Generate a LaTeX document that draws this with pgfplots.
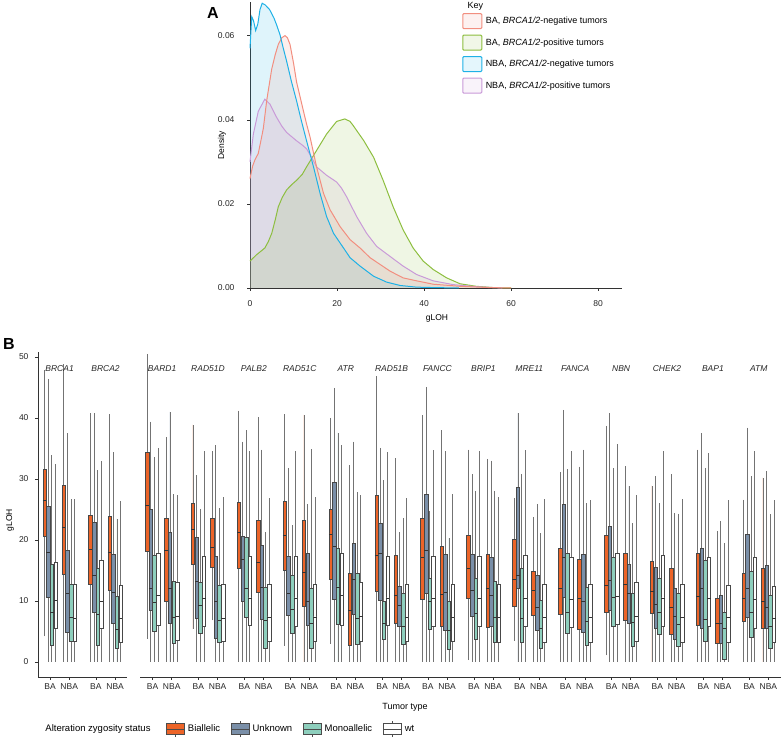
\documentclass[border=0pt]{standalone}
\usepackage{pgfplots}
\usepackage{pgfplotstable}
\pgfplotsset{compat=1.18}
\usepgfplotslibrary{statistics}
\usepackage{fontspec}
\setmainfont{Liberation Sans}
\definecolor{cBAneg}{HTML}{F28E7F}
\definecolor{cBApos}{HTML}{8DBE3F}
\definecolor{cNBAneg}{HTML}{1FB1E6}
\definecolor{cNBApos}{HTML}{C99AD8}
\definecolor{bi}{HTML}{EC6428}
\definecolor{un}{HTML}{7A8FA8}
\definecolor{mo}{HTML}{8ECFBD}
\definecolor{wt}{HTML}{FFFFFF}
\definecolor{axc}{HTML}{333333}

\pgfplotstableread{
x y
0 0.057
0.4 0.0645
0.8 0.0636
1.3 0.0612
1.8 0.0628
2.3 0.0662
2.8 0.0677
3.5 0.0673
4.5 0.0662
5.5 0.0642
6.1 0.0626
6.9 0.0602
7.6 0.0572
8.4 0.054
9.5 0.0492
10.7 0.0445
11.8 0.0398
13.0 0.035
14.6 0.0288
16.1 0.0225
17.6 0.017
19.2 0.013
21.5 0.0095
23.0 0.0072
25.3 0.0052
28.4 0.0028
31.4 0.0014
34.5 0.0006
38.3 0.0002
42.1 0.0001
48 0.0
}\tNBAneg
\pgfplotstableread{
x y
0 0.026
0.6 0.029
1.15 0.0305
1.9 0.032
2.5 0.035
3.07 0.038
3.83 0.0445
4.98 0.052
5.8 0.0555
6.5 0.0579
7.3 0.0595
8.05 0.060
8.6 0.0595
9.2 0.0579
10.0 0.0535
10.7 0.049
11.5 0.0455
12.3 0.042
13.0 0.039
13.8 0.0359
15.3 0.0288
16.9 0.0225
18.4 0.0186
20.7 0.0146
23.0 0.0115
25.3 0.0095
27.6 0.0072
29.9 0.0056
32.2 0.004
35.2 0.0024
38.3 0.0017
42.1 0.0009
48.3 0.0004
55 0.0001
60 0
}\tBAneg
\pgfplotstableread{
x y
0 0.0064
1.5 0.0079
3.4 0.0095
4.2 0.011
5 0.013
5.8 0.0162
6.5 0.0193
7.4 0.0215
8.4 0.0233
9.5 0.0245
10.7 0.0256
12 0.027
13.0 0.0288
15.3 0.0327
17.6 0.0366
19.9 0.0396
21.8 0.0402
23.0 0.0396
23.8 0.0385
26.1 0.0351
28.4 0.0311
30.6 0.0256
32.9 0.0193
35.2 0.0138
37.5 0.0095
39.8 0.0064
42.1 0.0044
45.2 0.0024
48.3 0.0010
52 0.0004
56 0.0001
60 0
}\tBApos
\pgfplotstableread{
x y
0 0.030
0.77 0.0366
1.9 0.042
3.4 0.0449
4.6 0.0437
6.1 0.0406
7.3 0.0385
8.4 0.037
10.7 0.035
12.0 0.034
13.0 0.0331
14.2 0.031
15.3 0.0288
17.6 0.0268
19.9 0.0252
21.0 0.0238
22.2 0.0217
24.5 0.017
26.8 0.013
29.1 0.0099
32.2 0.0075
35.2 0.0052
38.3 0.0032
42.1 0.0017
46.7 0.0008
52 0.0003
58 0
}\tNBApos

\pgfplotsset{
  bxs/.style={forget plot, draw=black!72, line width=0.45pt,
    boxplot/draw direction=y,
    boxplot/box extend=3.5, boxplot/whisker extend=0,
    boxplot/every whisker/.style={draw=black!55, line width=0.7pt},
    boxplot/every median/.style={draw=black!80, line width=0.6pt}},
  tks/.style={tick align=outside, major tick length=3pt,
    tick style={axc, line width=0.5pt},
    axis line style={axc, line width=0.8pt},
    ticklabel style={font=\fontsize{8.5}{9}\selectfont, text=black!85},
    /pgf/number format/assume math mode=true},
  facet/.style={tks, scale only axis, anchor=south west, height=325pt,
    ymin=-2.46, ymax=50.8, axis x line*=bottom, clip=false},
  dens/.style={forget plot, draw=none, fill=#1, fill opacity=0.14},
  dline/.style={forget plot, draw=#1, line width=1pt},
}

\def\bxx#1#2#3/#4/#5/#6/#7\relax{\addplot[bxs, fill=#1, boxplot prepared={draw position=#2, lower whisker=#3, lower quartile=#4, median=#5, upper quartile=#6, upper whisker=#7}] coordinates {};}
\newcommand\grp[5]{\bxx{bi}{#1-5.5}#2\relax\bxx{un}{#1-1.8}#3\relax\bxx{mo}{#1+1.8}#4\relax\bxx{wt}{#1+5.5}#5\relax}
\newcommand\gl[2]{\node[font=\itshape\fontsize{8.5}{9}\selectfont, text=black!85] at (axis cs:#1,48.1) {#2};}

\begin{document}
\begin{tikzpicture}
\useasboundingbox (0,0) rectangle (781pt,738pt);

% ---------------- Panel A ----------------
\begin{axis}[tks, at={(250pt,450pt)}, anchor=south west, scale only axis,
  width=372pt, height=286pt, xmin=0, xmax=85.5, ymin=0, ymax=0.068,
  axis x line*=bottom, axis y line*=left, clip=false,
  xtick={0,20,40,60,80}, ytick={0,0.02,0.04,0.06}, scaled y ticks=false,
  yticklabel style={xshift=-9pt, /pgf/number format/.cd, fixed, fixed zerofill, precision=2},
  xticklabel style={yshift=-6pt},
  legend style={at={(0.57,0.9615)}, anchor=north west, draw=none, fill=none,
    inner sep=0pt, row sep=5.5pt, font=\fontsize{9}{10}\selectfont,
    cells={anchor=west}, nodes={inner xsep=3.5pt}},
]
\addplot[dens=cNBAneg] table {\tNBAneg} \closedcycle;
\addplot[dens=cBAneg] table {\tBAneg} \closedcycle;
\addplot[dens=cNBApos] table {\tNBApos} \closedcycle;
\addplot[dens=cBApos] table {\tBApos} \closedcycle;
\addplot[dline=cBApos] table {\tBApos};
\addplot[dline=cNBApos] table {\tNBApos};
\addplot[dline=cBAneg] table {\tBAneg};
\addplot[dline=cNBAneg] table {\tNBAneg};
\addlegendimage{legend image code/.code={\draw[cBAneg, fill=cBAneg!12, line width=1pt, rounded corners=1pt] (0pt,-7.5pt) rectangle (19pt,7.5pt);}}
\addlegendentry{BA, \textit{BRCA1/2}-negative tumors}
\addlegendimage{legend image code/.code={\draw[cBApos, fill=cBApos!12, line width=1pt, rounded corners=1pt] (0pt,-7.5pt) rectangle (19pt,7.5pt);}}
\addlegendentry{BA, \textit{BRCA1/2}-positive tumors}
\addlegendimage{legend image code/.code={\draw[cNBAneg, fill=cNBAneg!12, line width=1pt, rounded corners=1pt] (0pt,-7.5pt) rectangle (19pt,7.5pt);}}
\addlegendentry{NBA, \textit{BRCA1/2}-negative tumors}
\addlegendimage{legend image code/.code={\draw[cNBApos, fill=cNBApos!12, line width=1pt, rounded corners=1pt] (0pt,-7.5pt) rectangle (19pt,7.5pt);}}
\addlegendentry{NBA, \textit{BRCA1/2}-positive tumors}
\end{axis}

\node[font=\bfseries\fontsize{16}{16}\selectfont] at (213pt,725pt) {A};
\node[rotate=90, font=\fontsize{8.5}{9}\selectfont] at (222pt,593pt) {Density};
\node[font=\fontsize{8.5}{9}\selectfont] at (437pt,420pt) {gLOH};
\node[anchor=base west, font=\fontsize{9}{10}\selectfont] at (464pt,729pt) {Key};

% ---------------- Panel B, facet 1 ----------------
\begin{axis}[facet, at={(38pt,61pt)}, width=89pt, xmin=38, xmax=127,
  axis y line*=left, ytick={0,10,20,30,40,50},
  yticklabel style={xshift=-3pt},
  xtick={50,69.2,95.9,115.1}, xticklabels={BA,NBA,BA,NBA},
  legend style={at={(1.435,-0.16)}, anchor=west, draw=none, fill=none,
    inner sep=0pt, legend columns=4, font=\fontsize{9.5}{10}\selectfont,
    nodes={inner xsep=3.5pt},
    /tikz/every even column/.append style={column sep=7pt}},
]
\addlegendimage{legend image code/.code={\draw[black!70, line width=0.5pt] (9pt,-8pt)--(9pt,8pt); \draw[black!70, fill=bi, line width=0.5pt] (0pt,-5.5pt) rectangle (18pt,5.5pt); \draw[black!70, line width=0.5pt] (0pt,0pt)--(18pt,0pt);}}
\addlegendentry{Biallelic}
\addlegendimage{legend image code/.code={\draw[black!70, line width=0.5pt] (9pt,-8pt)--(9pt,8pt); \draw[black!70, fill=un, line width=0.5pt] (0pt,-5.5pt) rectangle (18pt,5.5pt); \draw[black!70, line width=0.5pt] (0pt,0pt)--(18pt,0pt);}}
\addlegendentry{Unknown}
\addlegendimage{legend image code/.code={\draw[black!70, line width=0.5pt] (9pt,-8pt)--(9pt,8pt); \draw[black!70, fill=mo, line width=0.5pt] (0pt,-5.5pt) rectangle (18pt,5.5pt); \draw[black!70, line width=0.5pt] (0pt,0pt)--(18pt,0pt);}}
\addlegendentry{Monoallelic}
\addlegendimage{legend image code/.code={\draw[black!70, line width=0.5pt] (9pt,-8pt)--(9pt,8pt); \draw[black!70, fill=white, line width=0.5pt] (0pt,-5.5pt) rectangle (18pt,5.5pt); \draw[black!70, line width=0.5pt] (0pt,0pt)--(18pt,0pt);}}
\addlegendentry{wt}
\grp{50}{4.2/20.6/26.5/31.6/47.8}{0/10.6/17.9/25.6/46.4}{0/2.7/8.1/16.0/33.9}{0/5.6/10.1/16.4/32.4}
\grp{69.2}{0/14.4/22.0/28.9/48.8}{0/4.9/11.3/18.3/37.5}{0/3.4/7.4/12.8/26.7}{0/3.4/7.2/12.7/26.7}
\grp{95.9}{0/12.7/18.5/24.0/40.8}{0/8.2/14.2/22.9/40.8}{0/2.8/7.8/15.3/31.4}{0/5.6/9.9/16.6/33.0}
\grp{115.1}{0/11.8/17.9/23.9/40.6}{0/6.4/11.4/17.7/34.4}{0/2.2/5.4/10.7/23.5}{0/3.2/7.1/12.5/26.4}
\gl{59.6}{BRCA1}
\gl{105.5}{BRCA2}
\end{axis}

% ---------------- Panel B, facet 2 ----------------
\begin{axis}[facet, at={(140pt,61pt)}, width=641pt, xmin=140, xmax=781,
  axis y line=none, ytick=\empty,
  xtick={152.5,171.7,198.4,217.6,244.3,263.5,290.2,309.4,336.1,355.3,382.0,401.2,427.9,447.1,473.8,493.0,519.7,538.9,565.6,584.8,611.5,630.7,657.4,676.6,703.3,722.5,749.2,768.4},
  xticklabels={BA,NBA,BA,NBA,BA,NBA,BA,NBA,BA,NBA,BA,NBA,BA,NBA,BA,NBA,BA,NBA,BA,NBA,BA,NBA,BA,NBA,BA,NBA,BA,NBA},
]
\grp{152.5}{3.8/18.2/25.7/34.3/50.5}{0/8.5/12.0/25.1/39.4}{0/5.0/9.8/17.5/33.6}{0/6.1/10.9/17.8/35.1}
\grp{171.7}{0/10.0/18.3/23.6/36.9}{0/6.3/12.0/21.2/41.0}{0/3.0/7.3/13.2/27.5}{0/3.5/7.5/13.1/27.4}
\grp{198.4}{5.4/16.1/21.7/26.0/38.9}{0/7.1/13.3/20.4/30.6}{0/4.7/9.3/13.1/25.1}{0/5.9/10.4/17.4/34.5}
\grp{217.6}{6.8/15.5/18.8/23.6/34.5}{0/3.9/9.9/17.4/35.5}{0/3.3/6.8/12.5/25.2}{0/3.4/7.2/12.8/27.0}
\grp{244.3}{0/15.4/21.2/26.1/41.2}{0/9.9/16.8/20.6/36.1}{0/7.3/12.1/20.4/38.0}{0/6.0/10.5/17.4/34.6}
\grp{263.5}{0/11.4/16.3/23.3/40.1}{0/7.0/12.3/19.2/34.8}{0/2.3/6.9/12.3/21.3}{0/3.4/7.4/12.8/26.9}
\grp{290.2}{2.7/15.1/20.7/26.3/40.6}{0/7.6/11.2/17.3/31.8}{0/4.7/8.7/14.2/22.4}{0/5.9/10.5/17.3/34.5}
\grp{309.4}{0/9.1/14.7/23.3/40.5}{0/6.1/9.9/17.9/25.9}{0/2.3/6.3/12.1/34.9}{0/3.4/7.4/12.8/27.0}
\grp{336.1}{3.0/13.5/21.0/25.0/40.0}{0/10.3/18.9/29.5/44.9}{0/6.2/12.3/18.7/37.6}{0/6.1/10.9/17.9/35.5}
\grp{355.3}{0/2.7/8.5/14.6/32.2}{0/7.8/13.5/19.5/36.1}{0/2.9/7.2/14.6/27.8}{0/3.4/7.5/13.1/27.3}
\grp{382.0}{0/11.6/17.5/27.4/46.8}{0/10.1/17.8/22.7/35.1}{0/3.8/6.4/9.9/29.8}{0/6.0/10.5/17.3/34.4}
\grp{401.2}{0/6.3/10.9/17.5/33.4}{0/5.9/9.3/12.4/21.3}{0/2.9/5.8/11.2/23.6}{0/3.4/7.3/12.7/26.8}
\grp{427.9}{0/10.3/17.2/23.5/40.4}{0/11.2/18.3/27.5/45.1}{0/5.3/9.9/13.8/24.8}{0/5.9/10.5/17.3/34.8}
\grp{447.1}{0/5.8/11.1/19.0/38.0}{0/5.2/11.4/17.7/34.5}{0/2.1/5.2/10.0/20.3}{0/3.4/7.3/12.7/27.5}
\grp{473.8}{0.3/10.5/15.4/20.7/34.8}{0/7.5/11.8/17.6/30.8}{0/3.8/7.9/13.7/28.1}{0/5.9/10.5/17.3/34.6}
\grp{493.0}{0/5.7/12.0/17.6/33.3}{0/5.9/10.9/17.1/33.0}{0/3.3/7.3/13.3/28.1}{0/3.3/7.3/12.8/27.0}
\grp{519.7}{3.4/9.2/13.6/20.1/26.9}{0/12.1/14.2/28.6/40.8}{0/3.3/7.1/15.4/30.8}{0/5.9/10.5/17.5/34.8}
\grp{538.9}{0/7.6/11.8/14.8/23.8}{0/5.2/8.9/14.3/25.9}{0/2.3/5.5/10.2/21.1}{0/3.3/7.3/12.8/26.7}
\grp{565.6}{0/7.9/12.0/18.7/31.1}{0/10.6/17.2/25.8/41.3}{0/4.7/8.2/17.8/31.6}{0/5.7/10.3/17.2/34.5}
\grp{584.8}{0/5.4/10.5/16.8/32.0}{0/4.8/10.0/17.6/34.8}{0/2.8/6.7/12.3/26.0}{0/3.3/7.3/12.7/26.6}
\grp{611.5}{1.1/8.2/12.5/20.8/38.7}{0/8.5/13.4/22.2/40.8}{0/5.8/10.6/17.1/31.8}{0/6.2/10.8/17.9/35.7}
\grp{630.7}{0/6.9/12.8/17.9/32.1}{0/6.4/11.3/16.1/28.8}{0/2.6/6.5/11.2/22.7}{0/3.4/7.5/13.1/27.4}
\grp{657.4}{0/8.0/11.6/16.5/28.9}{0/5.6/9.4/15.5/30.4}{0/4.6/8.2/13.8/26.0}{0/5.9/10.5/17.5/34.6}
\grp{676.6}{0/4.5/9.0/15.3/30.8}{0/3.8/7.5/12.1/24.4}{0/2.6/6.1/11.2/24.3}{0/3.3/7.3/12.7/26.7}
\grp{703.3}{0/6.1/10.7/17.9/34.8}{0/5.5/12.0/18.7/37.5}{0/3.4/7.0/16.7/31.8}{0/5.9/10.4/17.2/34.2}
\grp{722.5}{0/3.0/6.3/10.5/21.5}{0/3.0/6.4/11.0/23.1}{0/0.4/5.5/8.1/19.5}{0/3.3/7.3/12.5/26.5}
\grp{749.2}{0/6.7/10.4/14.6/26.6}{0/7.3/12.1/20.9/38.4}{0/4.0/8.1/14.8/30.4}{0/5.6/10.3/17.2/34.6}
\grp{768.4}{0/5.5/10.0/15.4/30.2}{0/5.5/9.0/15.8/31.3}{0/2.3/5.9/11.0/24.2}{0/3.3/7.1/12.4/26.5}
\gl{162.1}{BARD1}
\gl{208.0}{RAD51D}
\gl{253.9}{PALB2}
\gl{299.8}{RAD51C}
\gl{345.7}{ATR}
\gl{391.6}{RAD51B}
\gl{437.5}{FANCC}
\gl{483.4}{BRIP1}
\gl{529.3}{MRE11}
\gl{575.2}{FANCA}
\gl{621.1}{NBN}
\gl{667.0}{CHEK2}
\gl{712.9}{BAP1}
\gl{758.8}{ATM}
\end{axis}

\node[font=\bfseries\fontsize{16}{16}\selectfont] at (9pt,394pt) {B};
\node[rotate=90, font=\fontsize{8.5}{9}\selectfont] at (10pt,218pt) {gLOH};
\node[font=\fontsize{9}{10}\selectfont] at (405pt,31pt) {Tumor type};
\node[font=\fontsize{9.5}{10}\selectfont] at (98pt,9pt) {Alteration zygosity status};
\end{tikzpicture}
\end{document}
